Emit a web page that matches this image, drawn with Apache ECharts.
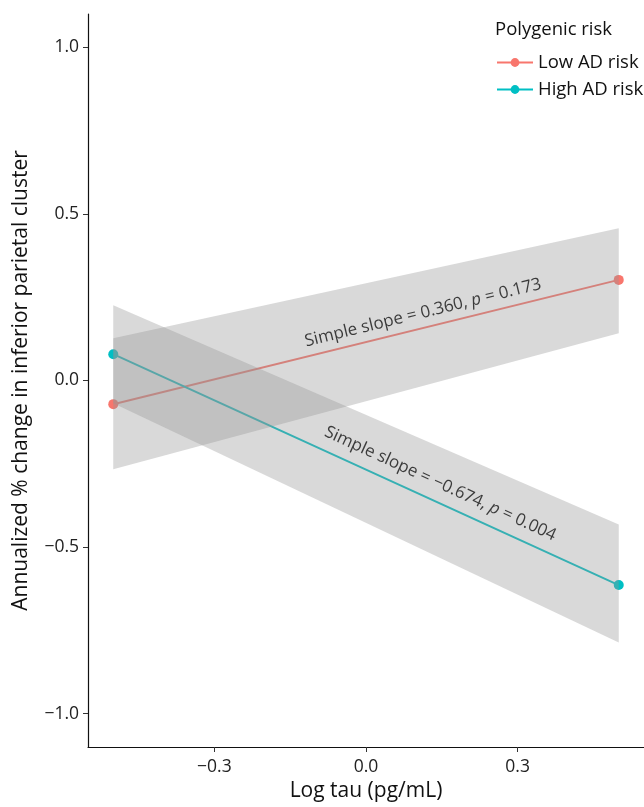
<!DOCTYPE html>
<html>
<head>
<meta charset="utf-8">
<script src="https://cdn.jsdelivr.net/npm/echarts@6/dist/echarts.min.js"></script>
<style>
html, body { margin: 0; padding: 0; background: #fff; }
#main { width: 644px; height: 807px; }
</style>
</head>
<body>
<div id="main"></div>
<script>
// tau levels (centred log tau) where the simple slopes are evaluated
var tauX = [-0.5, 0.5];

// fitted values per polygenic risk group
var lowFit  = [-0.071, 0.302];
var highFit = [0.079, -0.614];

// 95% CI bands
var lowLower  = [-0.266, 0.142];
var lowUpper  = [0.127, 0.457];
var highLower = [-0.068, -0.786];
var highUpper = [0.226, -0.432];

var xTicks = [-0.3, 0.0, 0.3];
var yTicks = [-1.0, -0.5, 0.0, 0.5, 1.0];

var lowLabel  = '{n|Simple slope = 0.360, }{i|p}{n| = 0.173}';
var highLabel = '{n|Simple slope = \u22120.674, }{i|p}{n| = 0.004}';

var FONT = '"Open Sans", "Noto Sans", sans-serif';
var RED = '#F8766D', TEAL = '#00BFC4';
var INK = '#111';

function fmt(v) {
    return v.toFixed(1).replace('-', '\u2212');
}
function pairs(xs, ys) {
    var out = [];
    for (var i = 0; i < xs.length; i++) out.push([xs[i], ys[i]]);
    return out;
}
function rows(xs, lo, hi) {
    var out = [];
    for (var i = 0; i < xs.length; i++) out.push([xs[i], lo[i], hi[i]]);
    return out;
}

// ribbon drawn as one polygon: upper edge left->right, lower edge back
// (drawn above the lines, like the original ribbon layer)
function band(name, data) {
    return {
        name: name, type: 'custom', silent: true, z: 6,
        data: data,
        encode: { x: 0, y: [1, 2] },
        renderItem: function (params, api) {
            if (params.dataIndex !== 0) return;
            var pts = [], i;
            for (i = 0; i < data.length; i++) pts.push(api.coord([data[i][0], data[i][2]]));
            for (i = data.length - 1; i >= 0; i--) pts.push(api.coord([data[i][0], data[i][1]]));
            return {
                type: 'polygon',
                shape: { points: pts },
                style: { fill: 'rgba(150,150,150,0.36)' }
            };
        }
    };
}

var richText = {
    n: { fontFamily: FONT, fontSize: 17, color: INK },
    i: { fontFamily: FONT, fontSize: 17, color: INK, fontStyle: 'italic' }
};

var myChart = echarts.init(document.getElementById('main'));
var option = {
    animation: false,
    backgroundColor: '#fff',
    textStyle: { fontFamily: FONT },
    title: {
        text: 'Polygenic risk',
        left: 490, top: 15,
        textStyle: { fontFamily: FONT, fontSize: 18.5, fontWeight: 'normal', color: INK }
    },
    legend: {
        data: ['Low AD risk', 'High AD risk'],
        orient: 'vertical',
        left: 491, top: 48,
        itemWidth: 36, itemHeight: 11, itemGap: 8,
        textStyle: { fontFamily: FONT, fontSize: 18.5, color: INK }
    },
    grid: { left: 88, right: 0, top: 14, bottom: 60 },
    xAxis: {
        type: 'value', min: -0.55, max: 0.55,
        name: 'Log tau (pg/mL)', nameLocation: 'middle', nameGap: 33,
        nameTextStyle: { fontFamily: FONT, fontSize: 21, color: INK },
        axisLine: { onZero: false, lineStyle: { color: '#111', width: 1.2 } },
        axisTick: { show: true, length: 5, lineStyle: { color: '#333' }, customValues: xTicks },
        axisLabel: { customValues: xTicks, formatter: fmt, fontFamily: FONT, fontSize: 17.5, color: '#222', margin: 11 },
        splitLine: { show: false }
    },
    yAxis: {
        type: 'value', min: -1.1, max: 1.1,
        name: 'Annualized % change in inferior parietal cluster', nameLocation: 'middle', nameGap: 56,
        nameTextStyle: { fontFamily: FONT, fontSize: 21, color: INK },
        axisLine: { show: true, onZero: false, lineStyle: { color: '#111', width: 1.2 } },
        axisTick: { show: true, length: 5, lineStyle: { color: '#333' }, customValues: yTicks },
        axisLabel: { customValues: yTicks, formatter: fmt, fontFamily: FONT, fontSize: 17.5, color: '#222', margin: 9 },
        splitLine: { show: false }
    },
    series: [
        {
            name: 'Low AD risk', type: 'line',
            data: pairs(tauX, lowFit),
            color: RED,
            symbol: 'circle', symbolSize: 10,
            lineStyle: { width: 2, color: RED },
            itemStyle: { color: RED },
            z: 4
        },
        {
            name: 'High AD risk', type: 'line',
            data: pairs(tauX, highFit),
            color: TEAL,
            symbol: 'circle', symbolSize: 10,
            lineStyle: { width: 2, color: TEAL },
            itemStyle: { color: TEAL },
            z: 4
        },
        band('lowBand', rows(tauX, lowLower, lowUpper)),
        band('highBand', rows(tauX, highLower, highUpper)),
        {
            name: 'slopeText', type: 'scatter', symbolSize: 0, silent: true, z: 8,
            data: [
                { value: [0.113, 0.203], label: { formatter: lowLabel, rotate: 13.8 } },
                { value: [0.147, -0.310], label: { formatter: highLabel, rotate: -24.6 } }
            ],
            label: { show: true, position: 'inside', align: 'center', verticalAlign: 'middle', rich: richText }
        }
    ]
};
myChart.setOption(option);
</script>
</body>
</html>
